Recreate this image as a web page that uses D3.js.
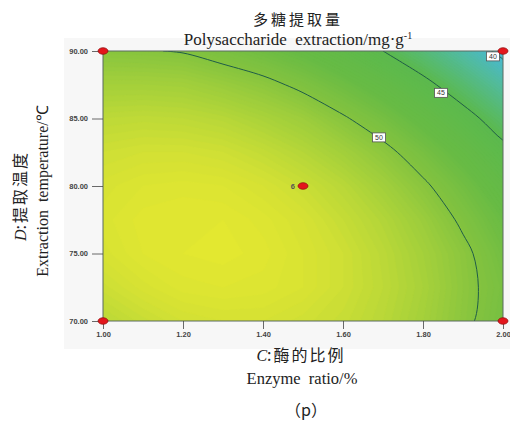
<!DOCTYPE html>
<html lang="zh">
<head>
<meta charset="UTF-8">
<title>Polysaccharide extraction contour</title>
<script src="https://cdn.jsdelivr.net/npm/d3@7"></script>
<style>
  body { margin: 0; background: #fff; }
  svg { display: block; }
</style>
</head>
<body>
<svg id="chart" width="510" height="425"></svg>
<script>
// grid: enzyme ratio (%) across, extraction temperature (°C) down
const enzymeRatio = [1.0, 1.1, 1.2, 1.3, 1.4, 1.5, 1.6, 1.7, 1.8, 1.9, 2.0];
const extractionTemp = [70, 72.5, 75, 77.5, 80, 82.5, 85, 87.5, 90];
// polysaccharide extraction (mg/g), one row per temperature, low to high
const extractionYield = [
  [52.8, 53.4, 53.9, 54.1, 54.1, 53.8, 53.4, 52.7, 51.7, 50.4, 49.0],
  [53.6, 54.2, 54.6, 54.7, 54.6, 54.3, 53.7, 52.9, 51.9, 50.5, 49.2],
  [54.2, 54.7, 54.9, 55.0, 54.8, 54.3, 53.7, 52.8, 51.7, 50.4, 48.8],
  [54.4, 54.8, 54.9, 54.9, 54.6, 54.1, 53.3, 52.4, 51.2, 49.7, 48.1],
  [54.2, 54.5, 54.6, 54.5, 54.1, 53.5, 52.7, 51.6, 50.3, 48.8, 47.0],
  [53.7, 53.9, 53.9, 53.7, 53.2, 52.5, 51.6, 50.5, 49.1, 47.5, 45.6],
  [52.9, 53.0, 52.9, 52.6, 52.0, 51.3, 50.2, 49.0, 47.5, 45.8, 43.9],
  [51.7, 51.7, 51.6, 51.1, 50.5, 49.6, 48.5, 47.2, 45.6, 43.8, 41.8],
  [50.2, 50.1, 49.9, 49.3, 48.6, 47.7, 46.5, 45.0, 43.4, 41.5, 39.4]
];
const contourLevels = [40, 45, 50];
const contourLabels = [
  { text: "50", c: 1.69, d: 83.6 },
  { text: "45", c: 1.845, d: 86.9 },
  { text: "40", c: 1.975, d: 89.6 }
];
const designPoints = [
  { c: 1.0, d: 90 }, { c: 2.0, d: 90 },
  { c: 1.0, d: 70 }, { c: 2.0, d: 70 },
  { c: 1.5, d: 80 }
];
const centerReplicates = "6";
const xTicks = [1.0, 1.2, 1.4, 1.6, 1.8, 2.0];
const yTicks = [70, 75, 80, 85, 90];

const colorValues = [39, 42, 45, 48, 50, 52, 54, 55.2];
const colorRange = ["#46b8e6", "#52bb9c", "#5bb94e", "#68bb44", "#84c33f", "#aad23a", "#d4e134", "#e6e92f"];

const svg = d3.select("#chart");
const plotL = 103, plotR = 503, plotT = 51, plotB = 321;

const x = d3.scaleLinear().domain([1, 2]).range([plotL, plotR]);
const y = d3.scaleLinear().domain([70, 90]).range([plotB, plotT]);
const color = d3.scaleLinear().domain(colorValues).range(colorRange).clamp(true);

// light panel behind the plot
svg.append("rect")
  .attr("x", 64).attr("y", 38).attr("width", 446).attr("height", 311)
  .attr("fill", "#f7f7f7");

svg.append("defs").append("clipPath").attr("id", "plotClip")
  .append("rect")
  .attr("x", plotL).attr("y", plotT)
  .attr("width", plotR - plotL).attr("height", plotB - plotT);

const nx = enzymeRatio.length, ny = extractionTemp.length;
const cStep = enzymeRatio[1] - enzymeRatio[0];
const dStep = extractionTemp[1] - extractionTemp[0];
const values = extractionYield.flat();

// contour grid coords -> pixels
const gx = px => x(enzymeRatio[0] + (px - 0.5) * cStep);
const gy = py => y(extractionTemp[0] + (py - 0.5) * dStep);
const proj = d3.geoTransform({
  point(px, py) { this.stream.point(gx(px), gy(py)); }
});
const path = d3.geoPath(proj);

const plot = svg.append("g").attr("clip-path", "url(#plotClip)");

// filled bands
const bandThresholds = d3.range(38.5, 55.5, 0.2);
const bands = d3.contours().size([nx, ny]).thresholds(bandThresholds)(values);
plot.append("g")
  .selectAll("path")
  .data(bands)
  .join("path")
  .attr("d", path)
  .attr("fill", d => color(d.value + 0.1))
  .attr("stroke", d => color(d.value + 0.1))
  .attr("stroke-width", 0.6);

// contour lines
const lines = d3.contours().size([nx, ny]).thresholds(contourLevels)(values);
const lineGen = d3.line().curve(d3.curveCatmullRom.alpha(0.5));
const rings = [];
lines.forEach(mp => mp.coordinates.forEach(poly => poly.forEach(ring => {
  rings.push(ring.map(p => [gx(p[0]), gy(p[1])]));
})));
plot.append("g")
  .selectAll("path")
  .data(rings)
  .join("path")
  .attr("d", lineGen)
  .attr("fill", "none")
  .attr("stroke", "#1f5c48")
  .attr("stroke-width", 1);

// plot frame
svg.append("rect")
  .attr("x", plotL).attr("y", plotT)
  .attr("width", plotR - plotL).attr("height", plotB - plotT)
  .attr("fill", "none").attr("stroke", "#5a6a60").attr("stroke-width", 1);

// axes
const tickFont = "'Liberation Sans', Arial, sans-serif";
const yAxis = svg.append("g")
  .attr("transform", `translate(${plotL},0)`)
  .call(d3.axisLeft(y).tickValues(yTicks).tickFormat(d3.format(".2f")).tickSize(11).tickPadding(4));
const xAxis = svg.append("g")
  .attr("transform", `translate(0,${plotB})`)
  .call(d3.axisBottom(x).tickValues(xTicks).tickFormat(d3.format(".2f")).tickSize(8).tickPadding(3));
[yAxis, xAxis].forEach(g => {
  g.select(".domain").remove();
  g.selectAll(".tick line").attr("stroke", "#444").attr("stroke-width", 0.8);
  g.selectAll(".tick text")
    .attr("font-family", tickFont).attr("font-size", 7.5)
    .attr("font-weight", "bold").attr("fill", "#444");
});

// contour labels
const lab = svg.append("g").selectAll("g").data(contourLabels).join("g")
  .attr("transform", d => `translate(${x(d.c)},${y(d.d)})`);
lab.append("rect")
  .attr("x", -6.5).attr("y", -4.5).attr("width", 13).attr("height", 9)
  .attr("fill", "#fff").attr("stroke", "#555").attr("stroke-width", 0.8);
lab.append("text")
  .attr("text-anchor", "middle").attr("dy", "0.35em")
  .attr("font-family", tickFont).attr("font-size", 7)
  .attr("fill", "#333")
  .text(d => d.text);

// design points
svg.append("g").selectAll("ellipse").data(designPoints).join("ellipse")
  .attr("cx", d => x(d.c)).attr("cy", d => y(d.d))
  .attr("rx", 5).attr("ry", 3.3)
  .attr("fill", "#e3161c").attr("stroke", "#8a0c0c").attr("stroke-width", 0.7);
svg.append("text")
  .attr("x", x(1.5) - 8).attr("y", y(80)).attr("dy", "0.35em")
  .attr("text-anchor", "end")
  .attr("font-family", tickFont).attr("font-size", 7.5).attr("font-weight", "bold")
  .attr("fill", "#555")
  .text(centerReplicates);

// titles
const serif = "'Liberation Serif', 'Times New Roman', serif";
const cjk = "'Noto Sans CJK SC', sans-serif";
svg.append("text")
  .attr("x", 298).attr("y", 25).attr("text-anchor", "middle")
  .attr("font-family", cjk).attr("font-size", 15).attr("letter-spacing", 3)
  .attr("fill", "#222").text("多糖提取量");
const t2 = svg.append("text")
  .attr("x", 298).attr("y", 45).attr("text-anchor", "middle")
  .attr("font-family", serif).attr("font-size", 17).attr("fill", "#222");
t2.append("tspan").text("Polysaccharide\u00a0\u00a0extraction/mg\u00b7g");
t2.append("tspan").attr("dy", -6).attr("font-size", 10).text("-1");

const xt = svg.append("text")
  .attr("x", 301).attr("y", 361).attr("text-anchor", "middle")
  .attr("font-size", 16).attr("fill", "#222");
xt.append("tspan").attr("font-family", serif).attr("font-style", "italic").text("C");
xt.append("tspan").attr("font-family", cjk).attr("letter-spacing", 2).text(":酶的比例");
svg.append("text")
  .attr("x", 302).attr("y", 384).attr("text-anchor", "middle")
  .attr("font-family", serif).attr("font-size", 16.5).attr("fill", "#222")
  .text("Enzyme\u00a0\u00a0ratio/%");
svg.append("text")
  .attr("x", 306).attr("y", 416).attr("text-anchor", "middle")
  .attr("font-family", cjk).attr("font-size", 16).attr("fill", "#222")
  .text("（p）");

const yt = svg.append("text")
  .attr("transform", "translate(26,196) rotate(-90)")
  .attr("text-anchor", "middle").attr("font-size", 16).attr("fill", "#222");
yt.append("tspan").attr("font-family", serif).attr("font-style", "italic").text("D");
yt.append("tspan").attr("font-family", cjk).attr("letter-spacing", 2).text(":提取温度");
svg.append("text")
  .attr("transform", "translate(48,191) rotate(-90)")
  .attr("text-anchor", "middle")
  .attr("font-family", serif).attr("font-size", 16).attr("fill", "#222")
  .text("Extraction\u00a0\u00a0temperature/℃");
</script>
</body>
</html>
